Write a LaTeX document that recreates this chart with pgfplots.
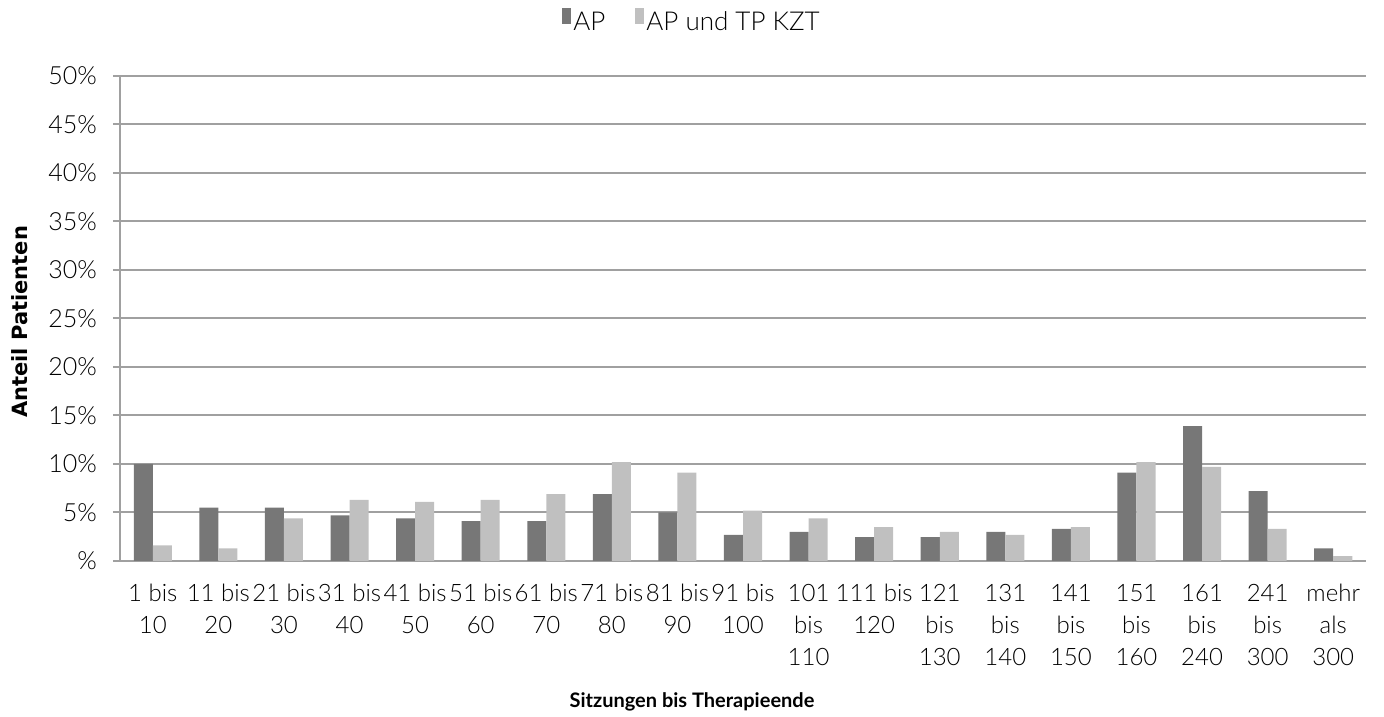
\documentclass[border=0pt]{standalone}
\usepackage{fontspec}
\setmainfont{Lato}
\newfontfamily\lightfont{Lato Light}
\newfontfamily\dejavu{DejaVu Sans}
\usepackage{pgfplots}
\pgfplotsset{compat=1.18}
\definecolor{apdark}{HTML}{777777}
\definecolor{aplight}{HTML}{C0C0C0}
\definecolor{gridgray}{HTML}{A0A0A0}
\begin{document}
\begin{tikzpicture}
\begin{axis}[
  name=main,
  scale only axis,
  width=623pt, height=242.5pt,
  ybar=0pt, bar width=0.29,
  xmin=-0.5, xmax=18.5,
  ymin=0, ymax=50,
  axis lines*=left,
  axis line style={gridgray, line width=1pt},
  ytick={0,5,...,50},
  yticklabels={\%,5\%,10\%,15\%,20\%,25\%,30\%,35\%,40\%,45\%,50\%},
  ymajorgrids,
  major grid style={gridgray, line width=1pt},
  xtick={0,...,18},
  xticklabels={{1 bis\\10},{11 bis\\20},{21 bis\\30},{31 bis\\40},{41 bis\\50},{51 bis\\60},{61 bis\\70},{71 bis\\80},{81 bis\\90},{91 bis\\100},{101\\bis\\110},{111 bis\\120},{121\\bis\\130},{131\\bis\\140},{141\\bis\\150},{151\\bis\\160},{161\\bis\\240},{241\\bis\\300},{mehr\\als\\300}},
  x tick label style={align=center, font=\lightfont\fontsize{12}{16}\selectfont, yshift=-4.5pt},
  y tick label style={font=\lightfont\fontsize{12.5}{14}\selectfont, xshift=-4.5pt},
  /pgf/number format/assume math mode=true,
  x tick style={draw=none},
  minor xtick={-0.5,0.5,...,18.5},
  minor x tick style={gridgray, line width=1pt},
  minor tick length=3.5pt,
  major tick length=3.5pt,
  y tick style={gridgray, line width=1pt},
  tick align=outside,
  xlabel={\textbf{Sitzungen bis Therapieende}},
  xlabel style={at={(axis description cs:0.5,0)}, anchor=center, xshift=-25.5pt, yshift=-70.5pt, font=\fontsize{10}{12}\selectfont},
  ylabel={\textbf{Anteil Patienten}},
  ylabel style={at={(axis description cs:0,0.5)}, anchor=center, yshift=50pt, xshift=-1.75pt, font=\dejavu\fontsize{10.5}{12}\selectfont},
  legend style={at={(axis description cs:0.5,1)}, anchor=center, xshift=-25.5pt, yshift=27pt, draw=none, fill=none, legend columns=2, font=\lightfont\fontsize{13}{15}\selectfont, nodes={inner sep=1pt}, /tikz/every even column/.append style={column sep=14pt}},
  legend image code/.code={\fill[#1] (0pt,-0.5pt) rectangle (4.5pt,7.5pt);},
]
\addplot[fill=apdark, draw=none] coordinates {
  (0,10.0) (1,5.5) (2,5.5) (3,4.7) (4,4.4) (5,4.1) (6,4.1) (7,6.9) (8,5.0)
  (9,2.7) (10,3.0) (11,2.45) (12,2.45) (13,3.0) (14,3.3) (15,9.1) (16,13.9)
  (17,7.2) (18,1.3)};
\addplot[fill=aplight, draw=none] coordinates {
  (0,1.6) (1,1.3) (2,4.4) (3,6.3) (4,6.1) (5,6.3) (6,6.9) (7,10.2) (8,9.1)
  (9,5.2) (10,4.4) (11,3.5) (12,3.0) (13,2.7) (14,3.5) (15,10.2) (16,9.7)
  (17,3.3) (18,0.5)};
\legend{AP,AP und TP KZT}
\end{axis}
\path (main.south west) ++(-60pt,-78pt) coordinate (bbA);
\path (main.north east) ++(9pt,38pt) coordinate (bbB);
\pgfresetboundingbox
\path[use as bounding box] (bbA) rectangle (bbB);
\end{tikzpicture}
\end{document}
